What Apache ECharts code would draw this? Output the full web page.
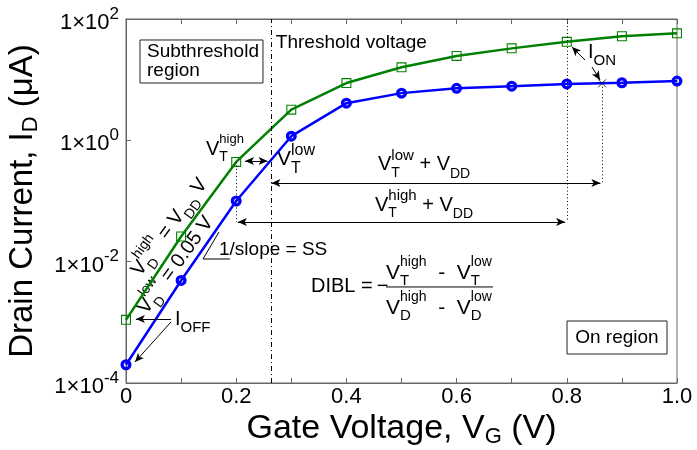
<!DOCTYPE html>
<html>
<head>
<meta charset="utf-8">
<script src="https://cdn.jsdelivr.net/npm/echarts@6/dist/echarts.min.js"></script>
<style>
  html, body { margin: 0; background: #fff; }
  #chart { width: 697px; height: 450px; }
</style>
</head>
<body>
<div id="chart"></div>
<script>
// gate voltage sweep (V) and drain current (uA) for the two drain biases
const gateV = [0, 0.1, 0.2, 0.3, 0.4, 0.5, 0.6, 0.7, 0.8, 0.9, 1.0];
const idHigh = [1.1e-3, 0.026, 0.44, 3.2, 8.8, 16, 24.6, 32.8, 42, 52, 58];
const idLow = [2.0e-4, 0.0049, 0.1, 1.17, 4.1, 6.0, 7.2, 7.8, 8.5, 8.9, 9.5];
const xTickLabels = ['0', '0.2', '0.4', '0.6', '0.8', '1.0'];

// threshold voltages and supply
const vtHigh = 0.2;
const vtLow = 0.264;
const vdd = 0.6;
const ionLow = 8.7;

const F = '"Liberation Sans", Arial, Helvetica, sans-serif';
const AX = '#666';

// hollow markers that let the line show through
const RING = 'path://M0,-10A10,10,0,1,1,0,10A10,10,0,1,1,0,-10ZM0,-4A4,4,0,1,0,0,4A4,4,0,1,0,0,-4Z';
const SQUARE = 'path://M0,0H10V10H0ZM1.1,1.1V8.9H8.9V1.1Z';

const chart = echarts.init(document.getElementById('chart'));

const dashDot = { color: '#000', width: 1, type: [5, 3, 1, 3] };
const dotted = { color: '#000', width: 1, type: [1, 2.5] };
const arrowLine = { color: '#000', width: 1, type: 'solid' };

function seg(a, b, style, s0, s1) {
  return [
    { coord: a, symbol: s0 || 'none', lineStyle: style },
    { coord: b, symbol: s1 || 'none' }
  ];
}
const E = e => Math.pow(10, e);

const marks = [
  seg([vtLow, 1e-4], [vtLow, 1e2], dashDot),
  seg([vtHigh, idHigh[2]], [vtHigh, 0.045], dotted),
  seg([vtHigh + vdd, 1e2], [vtHigh + vdd, 0.045], dotted),
  seg([vtLow + vdd, ionLow], [vtLow + vdd, 0.198], dotted),
  seg([vtLow, 0.198], [vtLow + vdd - 0.003, 0.198], arrowLine, 'arrow', 'arrow'),
  seg([vtHigh + 0.003, 0.045], [vtHigh + vdd - 0.003, 0.045], arrowLine, 'arrow', 'arrow'),
  seg([0.216, 0.456], [0.257, 0.456], arrowLine, 'arrow', 'arrow'),
  seg([0.0817, E(-2.945)], [0.018, E(-2.945)], arrowLine, 'none', 'arrow'),
  seg([0.0817, E(-2.994)], [0.0163, E(-3.654)], arrowLine, 'none', 'arrow'),
  seg([0.833, E(1.324)], [0.8094, E(1.538)], arrowLine, 'none', 'arrow'),
  seg([0.8457, E(1.209)], [0.8603, E(0.995)], arrowLine, 'none', 'arrow')
];

const option = {
  animation: false,
  grid: {
    left: 126, right: 20, top: 19, bottom: 67,
    show: true, borderColor: AX, borderWidth: 1,
    containLabel: false, outerBoundsMode: 'none'
  },
  xAxis: [{
    type: 'value', min: 0, max: 1, interval: 0.1,
    axisLine: { show: true, lineStyle: { color: AX } },
    axisTick: { show: true, inside: true, length: 5, lineStyle: { color: AX } },
    splitLine: { show: false },
    axisLabel: {
      margin: 3, color: '#000', fontFamily: F, fontSize: 22,
      formatter: v => {
        const k = Math.round(v * 10);
        return k % 2 === 0 ? xTickLabels[k / 2] : '';
      }
    },
    name: '{a|Gate Voltage, V}{g|G}{a| (V)}',
    nameLocation: 'middle', nameGap: 27, nameMoveOverlap: false,
    nameTextStyle: {
      rich: {
        a: { fontFamily: F, fontSize: 34, color: '#000' },
        g: { fontFamily: F, fontSize: 22, color: '#000', padding: [16, 0, 0, 0] }
      }
    }
  }, {
    type: 'value', min: 0, max: 1, interval: 0.1, position: 'top',
    axisLine: { show: true, lineStyle: { color: AX } },
    axisTick: { show: true, inside: true, length: 5, lineStyle: { color: AX } },
    axisLabel: { show: false },
    splitLine: { show: false }
  }],
  yAxis: {
    type: 'log', logBase: 10, min: 1e-4, max: 1e2, interval: 2,
    axisLine: { show: true, lineStyle: { color: AX } },
    axisTick: { show: true, inside: true, length: 5, lineStyle: { color: AX } },
    minorTick: { show: false },
    splitLine: { show: false },
    axisLabel: {
      margin: 7,
      formatter: v => '{b|1×10}{s|' + Math.round(Math.log10(v)) + '}',
      rich: {
        b: { fontFamily: F, fontSize: 22, color: '#000', padding: [8, 0, 0, 0] },
        s: { fontFamily: F, fontSize: 17, color: '#000', padding: [0, 0, 10, 0] }
      }
    },
    name: '{a|Drain Current, I}{g|D}{a| (μA)}',
    nameLocation: 'middle', nameGap: 84,
    nameTextStyle: {
      rich: {
        a: { fontFamily: F, fontSize: 33, color: '#000' },
        g: { fontFamily: F, fontSize: 22, color: '#000', padding: [16, 0, 0, 0] }
      }
    }
  },
  series: [{
    name: 'VD high',
    type: 'line',
    data: gateV.map((x, i) => [x, idHigh[i]]),
    color: '#008000',
    lineStyle: { width: 2.5, color: '#008000' },
    symbol: SQUARE, symbolSize: 10,
    itemStyle: { color: '#008000' },
    z: 3
  }, {
    name: 'VD low',
    type: 'line',
    data: gateV.map((x, i) => [x, idLow[i]]),
    color: '#0000ff',
    lineStyle: { width: 2.5, color: '#0000ff' },
    symbol: RING, symbolSize: 11,
    itemStyle: { color: '#0000ff' },
    z: 2,
    markLine: {
      silent: true, animation: false,
      symbolSize: [6, 9],
      label: { show: false },
      emphasis: { disabled: true },
      data: marks
    }
  }, {
    name: 'ION',
    type: 'scatter',
    data: [[vtLow + vdd, ionLow]],
    symbol: 'path://M0,0L10,10M10,0L0,10',
    symbolSize: 8,
    itemStyle: { color: 'none', borderColor: '#000', borderWidth: 1 },
    z: 4
  }]
};

chart.setOption(option);

// --- annotations, anchored to data coordinates ---
const P = (x, e) => chart.convertToPixel({ xAxisIndex: 0, yAxisIndex: 0 }, [x, E(e)]);
const ctx = document.createElement('canvas').getContext('2d');
const tw = (t, s) => { ctx.font = s + 'px ' + F; return ctx.measureText(t).width; };

// tokens: [text, size, dy, hold]  (hold: next token starts at same x)
function label(x, e, tokens, opt) {
  opt = opt || {};
  const [px, py] = P(x, e);
  let cx = 0, hold = 0;
  const kids = [];
  tokens.forEach(([t, s, dy, h]) => {
    kids.push({
      type: 'text', x: cx, y: dy || 0,
      style: { text: t, fontSize: s, fontFamily: F, fill: '#000', align: 'left', verticalAlign: 'middle' }
    });
    const w = tw(t, s);
    if (h) hold = Math.max(hold, w);
    else { cx += Math.max(w, hold); hold = 0; }
  });
  if (opt.center) kids.forEach(k => { k.x -= cx / 2; });
  return { type: 'group', x: px, y: py, rotation: (opt.rot || 0) * Math.PI / 180, children: kids, silent: true, z: 10 };
}
function box(x0, e0, x1, e1) {
  const [a, b] = P(x0, e0), [c, d] = P(x1, e1);
  return { type: 'rect', shape: { x: a, y: b, width: c - a, height: d - b },
    style: { fill: 'none', stroke: '#222', lineWidth: 1 }, silent: true, z: 10 };
}
function poly(pts) {
  return { type: 'polyline', shape: { points: pts.map(p => P(p[0], p[1])) },
    style: { stroke: '#000', lineWidth: 1, fill: 'none' }, silent: true, z: 10 };
}

const graphic = [
  label(0.272, 1.604, [['Threshold voltage', 19]]),
  box(0.0254, 1.654, 0.2486, 0.945),
  label(0.0381, 1.456, [['Subthreshold', 19]]),
  label(0.0381, 1.143, [['region', 19]]),
  box(0.8004, -2.978, 0.9819, -3.522),
  label(0.891, -3.258, [['On region', 19]], { center: true }),

  label(0.1452, -0.151, [['V', 20], ['high', 13, -10, true], ['T', 14, 8]]),
  label(0.274, -0.316, [['V', 21], ['low', 16, -9, true], ['T', 16, 9]]),

  label(0.4574, -0.406, [['V', 20], ['low', 15, -9, true], ['T', 14, 8], [' + V', 20], ['DD', 14, 9]]),
  label(0.4519, -1.066, [['V', 20], ['high', 15, -9, true], ['T', 14, 8], [' + V', 20], ['DD', 14, 9]]),

  label(0.1688, -1.807, [['1/slope = SS', 19]]),
  poly([[0.1688, -1.511], [0.1397, -1.956], [0.1887, -1.956]]),

  label(0.3358, -2.401, [['DIBL =', 20], ['\u2009\u2212', 20]]),
  label(0.4719, -2.187, [['V', 21], ['high', 14, -11, true], ['T', 15, 8], ['  -  V', 21], ['low', 14, -11, true], ['T', 15, 8]]),
  label(0.4719, -2.763, [['V', 21], ['high', 14, -11, true], ['D', 15, 8], ['  -  V', 21], ['low', 14, -11, true], ['D', 15, 8]]),
  poly([[0.4719, -2.417], [0.666, -2.417]]),

  label(0.0889, -2.961, [['I', 20], ['OFF', 15, 8]]),
  label(0.8385, 1.440, [['I', 20], ['ON', 15, 8]]),

  label(0.0176, -2.2, [['V', 20], ['high', 14, -10, true], ['D', 14, 9], [' = V', 20], ['DD', 14, 9], [' V', 20]], { rot: 54 }),
  label(0.0289, -2.824, [['V', 20], ['low', 14, -10, true], ['D', 14, 9], [' = 0.05 V', 20]], { rot: 54 })
];

chart.setOption({ graphic: graphic });
</script>
</body>
</html>
